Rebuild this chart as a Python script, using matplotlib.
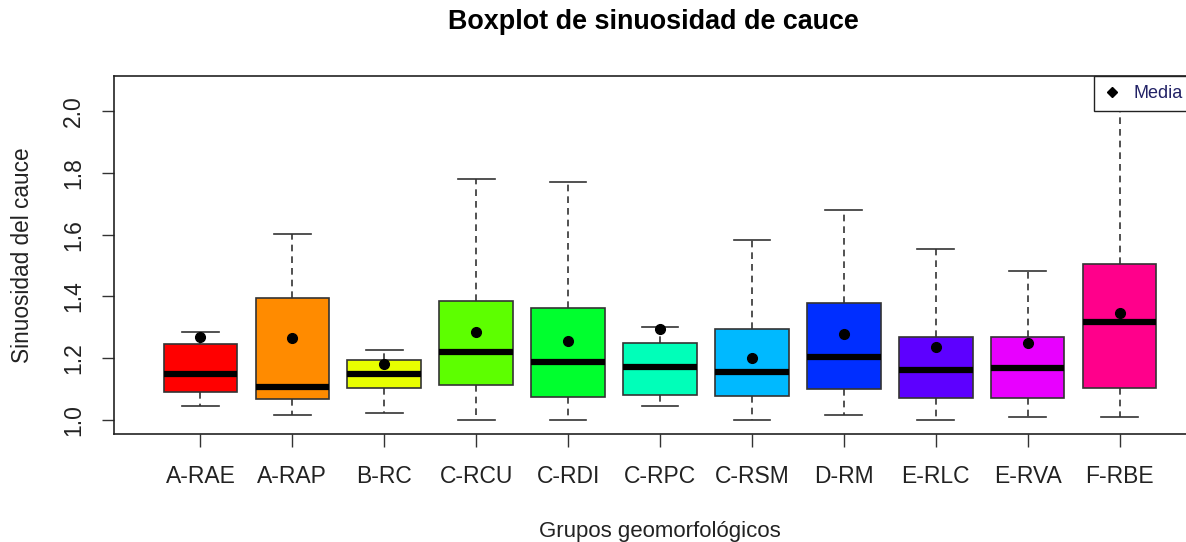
import matplotlib
matplotlib.use("Agg")
import matplotlib.pyplot as plt
from matplotlib.lines import Line2D

plt.rcParams['font.family'] = ['Liberation Sans', 'DejaVu Sans']

groups = ["A-RAE", "A-RAP", "B-RC", "C-RCU", "C-RDI", "C-RPC", "C-RSM", "D-RM", "E-RLC", "E-RVA", "F-RBE"]
whisk_lo = [1.044, 1.016, 1.022, 1.000, 1.000, 1.044, 1.000, 1.017, 1.000, 1.009, 1.009]
q1       = [1.090, 1.067, 1.104, 1.112, 1.076, 1.081, 1.077, 1.100, 1.072, 1.072, 1.105]
medians  = [1.149, 1.108, 1.149, 1.219, 1.188, 1.173, 1.155, 1.204, 1.163, 1.167, 1.318]
q3       = [1.246, 1.396, 1.194, 1.386, 1.363, 1.250, 1.294, 1.378, 1.268, 1.268, 1.505]
whisk_hi = [1.286, 1.602, 1.227, 1.780, 1.770, 1.300, 1.583, 1.680, 1.553, 1.482, 2.080]
means    = [1.268, 1.264, 1.181, 1.286, 1.255, 1.296, 1.200, 1.277, 1.236, 1.249, 1.345]
colors = ["#FF0000", "#FF8B00", "#E8FF00", "#5DFF00", "#00FF2E", "#00FFB9",
          "#00B9FF", "#002EFF", "#5D00FF", "#E800FF", "#FF008B"]

stats = []
for g, lo, a, m, b, hi in zip(groups, whisk_lo, q1, medians, q3, whisk_hi):
    stats.append(dict(label=g, whislo=lo, q1=a, med=m, q3=b, whishi=hi, fliers=[]))

W, H = 1186, 542
fig = plt.figure(figsize=(W / 100, H / 100), dpi=100)
left_px, right_px, top_px, bot_px = 114, 1206, 76, 434
ax = fig.add_axes([left_px / W, 1 - bot_px / H, (right_px - left_px) / W, (bot_px - top_px) / H])

positions = list(range(1, len(groups) + 1))
bp = ax.bxp(stats, positions=positions, widths=0.8, patch_artist=True,
            showfliers=False,
            boxprops=dict(edgecolor="#333333", linewidth=1.2),
            medianprops=dict(color="black", linewidth=4.5, solid_capstyle="butt"),
            whiskerprops=dict(color="#333333", linewidth=1.2, linestyle=(0, (4, 3))),
            capprops=dict(color="#333333", linewidth=1.2),
            capwidths=0.4)
for patch, c in zip(bp['boxes'], colors):
    patch.set_facecolor(c)

ax.plot(positions, means, 'o', color='black', markersize=7, zorder=5)

ax.set_xlim(0.06, 11.94)
ax.set_ylim(0.955, 2.113)
ax.set_yticks([1.0, 1.2, 1.4, 1.6, 1.8, 2.0])
ax.set_yticklabels(["1.0", "1.2", "1.4", "1.6", "1.8", "2.0"], rotation=90, va='center')
ax.set_xticks(positions)
ax.set_xticklabels(groups)
ax.tick_params(axis='both', labelsize=16.5, length=9, width=1, color='#333333', labelcolor='#222222')
ax.tick_params(axis='x', pad=13)
ax.tick_params(axis='y', pad=12)
for s in ax.spines.values():
    s.set_linewidth(1.2)
    s.set_color('#222222')

ax.set_xlabel("Grupos geomorfológicos", fontsize=16, color='#222222', labelpad=24)
ax.set_ylabel("Sinuosidad del cauce", fontsize=16.3, color='#222222', labelpad=20)
fig.text(653 / W, 1 - 22 / H, "Boxplot de sinuosidad de cauce", fontsize=19.4, fontweight='bold',
         ha='center', va='center')

handle = Line2D([], [], marker='D', color='black', linestyle='none', markersize=5.5)
leg = ax.legend([handle], ["Media"], loc='upper left',
                bbox_to_anchor=((1094 - left_px) / (right_px - left_px), 1.0),
                fontsize=13, frameon=True, fancybox=False, edgecolor='#222222', handlelength=1.0,
                borderaxespad=0, borderpad=0.5, handletextpad=0.7, framealpha=1.0,
                labelcolor='#222266')
leg.get_frame().set_linewidth(1.0)
leg.set_zorder(10)

fig.savefig("out.png", dpi=100)
